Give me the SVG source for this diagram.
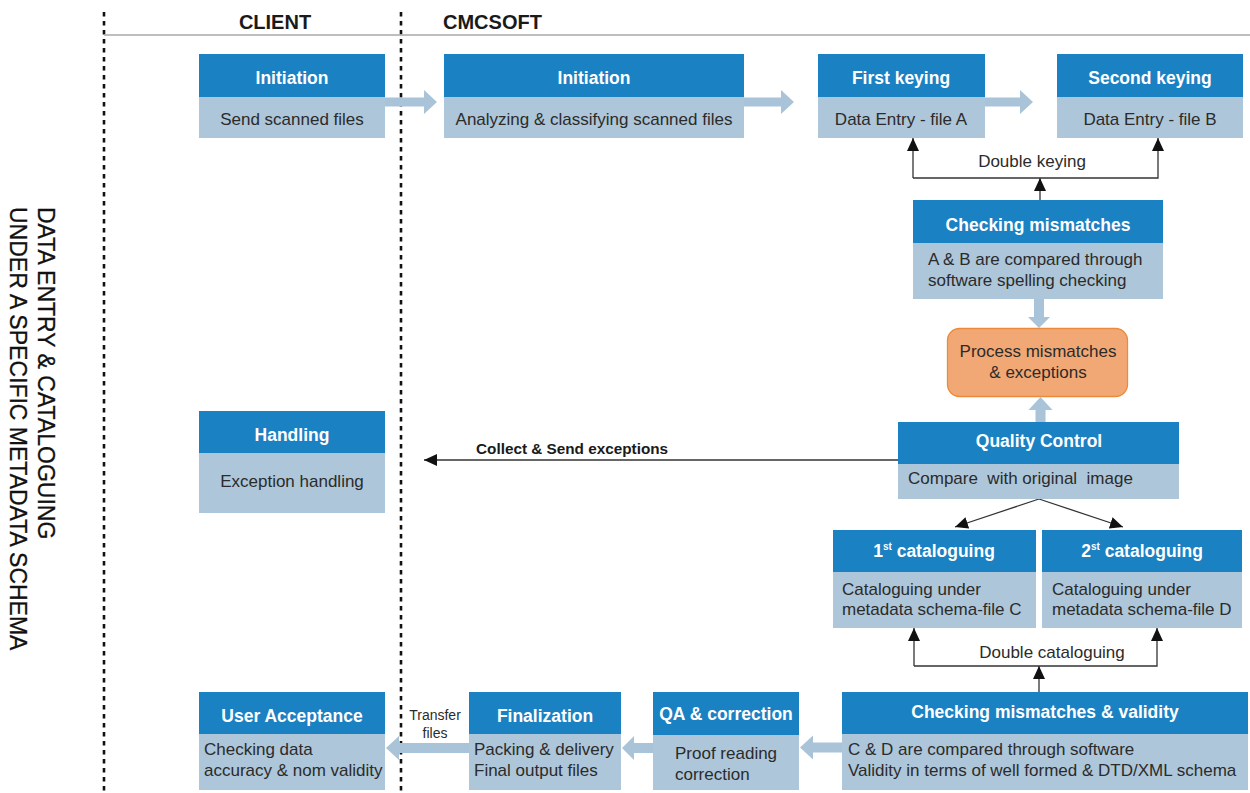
<svg xmlns="http://www.w3.org/2000/svg" width="1250" height="793" viewBox="0 0 1250 793">
<style>
.hd{fill:#1a81c3}
.bd{fill:#adc6d9}
.ti{font-family:"Liberation Sans",Arial,sans-serif;font-weight:bold;font-size:17.5px;fill:#fff;text-anchor:middle}
.tx{font-family:"Liberation Sans",Arial,sans-serif;font-size:17px;fill:#2b2b2b}
.c{text-anchor:middle}
.fat{fill:#a9c4d9}
.ln{stroke:#333;stroke-width:1.3;fill:none}
.dot{stroke:#111;stroke-width:2.6;stroke-dasharray:4.5 4.5;fill:none}
.lab{font-family:"Liberation Sans",Arial,sans-serif;font-size:20px;font-weight:bold;fill:#1a1a1a}
</style>
<defs>
<marker id="ah" markerUnits="userSpaceOnUse" markerWidth="13" markerHeight="12" refX="13" refY="6" orient="auto">
<path d="M0,0 L13,6 L0,12 z" fill="#111"/>
</marker>
</defs>
<rect width="1250" height="793" fill="#fff"/>

<g id="frame">
<line class="dot" x1="104" y1="12" x2="104" y2="793"/>
<line class="dot" x1="401" y1="12" x2="401" y2="793"/>
<line x1="104" y1="35" x2="1250" y2="35" stroke="#a8a8a8" stroke-width="1.5"/>
<text class="lab" x="275" y="29" text-anchor="middle">CLIENT</text>
<text class="lab" x="443" y="29">CMCSOFT</text>
<g font-family="'Liberation Sans',Arial,sans-serif" font-size="23" fill="#111" stroke="#111" stroke-width="0.3">
<text transform="translate(38,207) rotate(90)">DATA ENTRY &amp; CATALOGUING</text>
<text transform="translate(10,207) rotate(90)">UNDER A SPECIFIC METADATA SCHEMA</text>
</g>
</g>

<g id="connectors">
<polygon class="fat" points="385,97.5 424,97.5 424,90 437,102 424,114 424,106.5 385,106.5"/>
<polygon class="fat" points="744,97.5 781,97.5 781,90 794,102 781,114 781,106.5 744,106.5"/>
<polygon class="fat" points="985,97.5 1020,97.5 1020,90 1033,102 1020,114 1020,106.5 985,106.5"/>
<polygon class="fat" points="1034,299 1044,299 1044,317 1050,317 1039,328 1028,317 1034,317"/>
<polygon class="fat" points="1035.5,422 1045.5,422 1045.5,410 1052.5,410 1040.5,397 1028.5,410 1035.5,410"/>
<polygon class="fat" points="842,742.5 813,742.5 813,735.5 800,747.5 813,759.5 813,752.5 842,752.5"/>
<polygon class="fat" points="653,743 634,743 634,736 622,748 634,760 634,753 653,753"/>
<polygon class="fat" points="469,743 399,743 399,736 386,748 399,760 399,753 469,753"/>
<line class="ln" x1="1040" y1="200" x2="1040" y2="178" marker-end="url(#ah)"/>
<polyline class="ln" points="913,178 913,138" marker-end="url(#ah)"/>
<polyline class="ln" points="913,178 1158,178 1158,138" marker-end="url(#ah)"/>
<line class="ln" x1="898" y1="460" x2="424" y2="460" marker-end="url(#ah)"/>
<line class="ln" x1="1039" y1="499" x2="955" y2="527" marker-end="url(#ah)"/>
<line class="ln" x1="1039" y1="499" x2="1123" y2="527" marker-end="url(#ah)"/>
<line class="ln" x1="1039" y1="692" x2="1039" y2="666" marker-end="url(#ah)"/>
<polyline class="ln" points="914,666 914,628" marker-end="url(#ah)"/>
<polyline class="ln" points="914,666 1157,666 1157,628" marker-end="url(#ah)"/>
<text class="tx c" x="1032" y="167">Double keying</text>
<text class="tx c" x="1052" y="658">Double cataloguing</text>
<text x="476" y="454" font-family="'Liberation Sans',Arial,sans-serif" font-size="15.3" font-weight="bold" fill="#1a1a1a">Collect &amp; Send exceptions</text>
<text class="c" x="435" y="720" font-family="'Liberation Sans',Arial,sans-serif" font-size="14" fill="#2b2b2b">Transfer</text>
<text class="c" x="435" y="738" font-family="'Liberation Sans',Arial,sans-serif" font-size="14" fill="#2b2b2b">files</text>
</g>

<g id="client-initiation">
<rect class="hd" x="199" y="54" width="186" height="43"/>
<rect class="bd" x="199" y="97" width="186" height="41"/>
<text class="ti" x="292" y="84">Initiation</text>
<text class="tx c" x="292" y="125">Send scanned files</text>
</g>

<g id="cmc-initiation">
<rect class="hd" x="444" y="54" width="300" height="43"/>
<rect class="bd" x="444" y="97" width="300" height="41"/>
<text class="ti" x="594" y="84">Initiation</text>
<text class="tx c" x="594" y="125">Analyzing &amp; classifying scanned files</text>
</g>

<g id="first-keying">
<rect class="hd" x="818" y="54" width="167" height="43"/>
<rect class="bd" x="818" y="97" width="167" height="41"/>
<text class="ti" x="901" y="84">First keying</text>
<text class="tx c" x="901" y="125">Data Entry - file A</text>
</g>

<g id="second-keying">
<rect class="hd" x="1057" y="54" width="186" height="43"/>
<rect class="bd" x="1057" y="97" width="186" height="41"/>
<text class="ti" x="1150" y="84">Second keying</text>
<text class="tx c" x="1150" y="125">Data Entry - file B</text>
</g>

<g id="checking-mismatches">
<rect class="hd" x="913" y="200" width="250" height="43"/>
<rect class="bd" x="913" y="243" width="250" height="56"/>
<text class="ti" x="1038" y="231">Checking mismatches</text>
<text class="tx" x="928" y="265">A &amp; B are compared through</text>
<text class="tx" x="928" y="286">software spelling checking</text>
</g>

<g id="process-mismatches">
<rect x="947.5" y="328.5" width="180" height="68" rx="12" fill="#f2a874" stroke="#ec8a3c" stroke-width="1.3"/>
<text class="tx c" x="1038" y="357" font-size="15.7">Process mismatches</text>
<text class="tx c" x="1038" y="378" font-size="15.7">&amp; exceptions</text>
</g>

<g id="handling">
<rect class="hd" x="199" y="411" width="186" height="42"/>
<rect class="bd" x="199" y="453" width="186" height="60"/>
<text class="ti" x="292" y="441">Handling</text>
<text class="tx c" x="292" y="487">Exception handling</text>
</g>

<g id="quality-control">
<rect class="hd" x="898" y="422" width="281" height="42"/>
<rect class="bd" x="898" y="464" width="281" height="35"/>
<text class="ti" x="1039" y="447">Quality Control</text>
<text class="tx" x="908" y="484" xml:space="preserve">Compare  with original  image</text>
</g>

<g id="first-cataloguing">
<rect class="hd" x="833" y="530" width="203" height="42"/>
<rect class="bd" x="833" y="572" width="203" height="56"/>
<text class="ti" x="934" y="557">1<tspan font-size="10" dy="-7">st</tspan><tspan dy="7"> cataloguing</tspan></text>
<text class="tx" x="842" y="595">Cataloguing under</text>
<text class="tx" x="842" y="615">metadata schema-file C</text>
</g>

<g id="second-cataloguing">
<rect class="hd" x="1042" y="530" width="200" height="42"/>
<rect class="bd" x="1042" y="572" width="200" height="56"/>
<text class="ti" x="1142" y="557">2<tspan font-size="10" dy="-7">st</tspan><tspan dy="7"> cataloguing</tspan></text>
<text class="tx" x="1052" y="595">Cataloguing under</text>
<text class="tx" x="1052" y="615">metadata schema-file D</text>
</g>

<g id="checking-validity">
<rect class="hd" x="842" y="692" width="406" height="42"/>
<rect class="bd" x="842" y="734" width="406" height="56"/>
<text class="ti" x="1045" y="718">Checking mismatches &amp; validity</text>
<text class="tx" x="848" y="755">C &amp; D are compared through software</text>
<text class="tx" x="848" y="776">Validity in terms of well formed &amp; DTD/XML schema</text>
</g>

<g id="qa-correction">
<rect class="hd" x="653" y="692" width="146" height="43"/>
<rect class="bd" x="653" y="735" width="146" height="55"/>
<text class="ti" x="726" y="720">QA &amp; correction</text>
<text class="tx" x="675" y="759">Proof reading</text>
<text class="tx" x="675" y="780">correction</text>
</g>

<g id="finalization">
<rect class="hd" x="469" y="692" width="152" height="42"/>
<rect class="bd" x="469" y="734" width="152" height="56"/>
<text class="ti" x="545" y="722">Finalization</text>
<text class="tx" x="474" y="755">Packing &amp; delivery</text>
<text class="tx" x="474" y="776">Final output files</text>
</g>

<g id="user-acceptance">
<rect class="hd" x="199" y="692" width="186" height="42"/>
<rect class="bd" x="199" y="734" width="186" height="56"/>
<text class="ti" x="292" y="722">User Acceptance</text>
<text class="tx" x="204" y="755">Checking data</text>
<text class="tx" x="204" y="776">accuracy &amp; nom validity</text>
</g>
</svg>
